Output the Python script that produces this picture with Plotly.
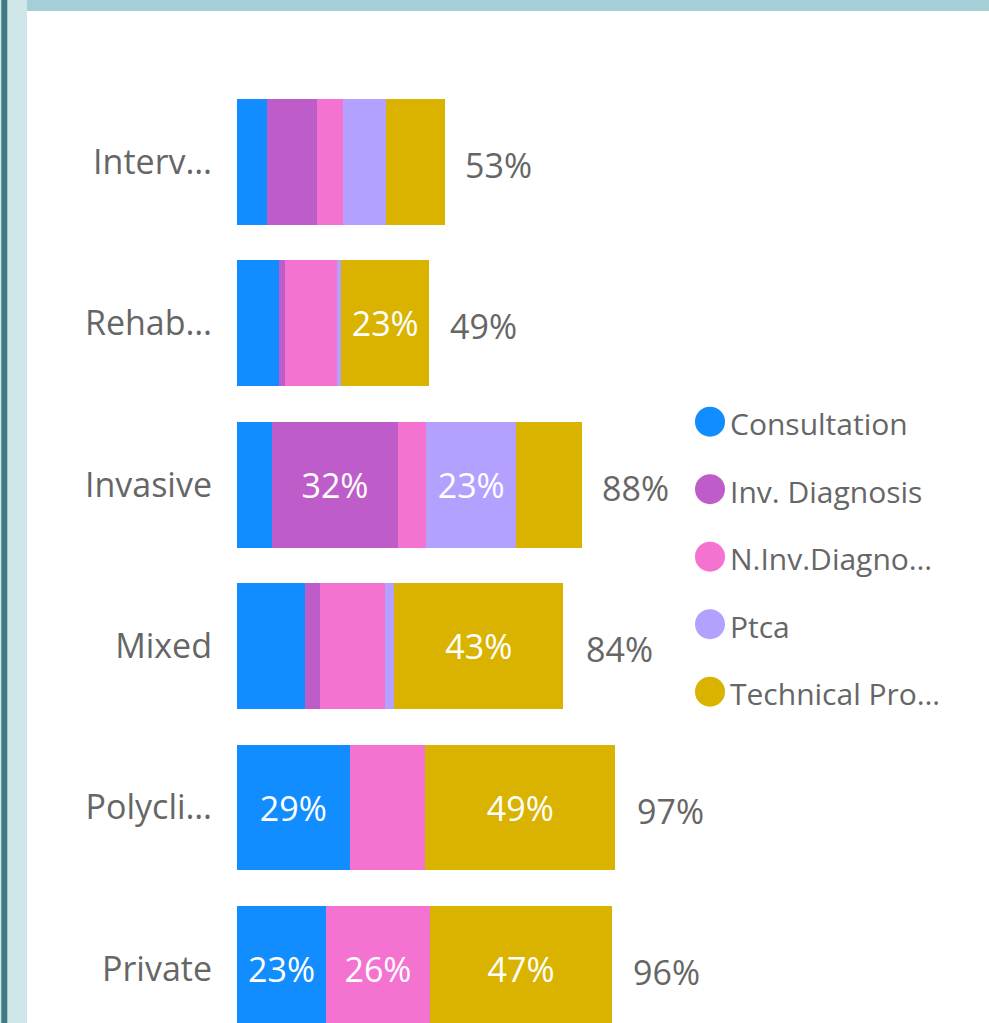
import plotly.graph_objects as go

W, H = 989, 1023

CATEGORIES = ["Interv…", "Rehab…", "Invasive", "Mixed", "Polycli…", "Private"]
SERIES = ["Consultation", "Inv. Diagnosis", "N.Inv.Diagnostics", "Ptca", "Technical Procedures"]
LEGEND_LABELS = ["Consultation", "Inv. Diagnosis", "N.Inv.Diagno…", "Ptca", "Technical Pro…"]

CONSULTATION = [7.6, 10.8, 8.9, 17.4, 28.8, 22.8]
INV_DIAGNOSIS = [12.8, 1.5, 32.3, 3.8, 0.0, 0.0]
N_INV_DIAGNOSTICS = [6.6, 13.3, 7.2, 16.7, 19.3, 26.5]
PTCA = [11.0, 1.0, 23.0, 2.3, 0.0, 0.0]
TECHNICAL = [15.1, 22.6, 16.9, 43.3, 48.7, 46.7]
TOTALS = [53, 49, 88, 84, 97, 96]

COLORS = ["#118DFF", "#BE5DC9", "#F473D1", "#B4A1FF", "#D9B300"]
LABEL_MIN = 20  # segments smaller than this carry no data label

FONT = "Segoe UI, Open Sans, sans-serif"
GREY = "#666666"

series_values = [CONSULTATION, INV_DIAGNOSIS, N_INV_DIAGNOSTICS, PTCA, TECHNICAL]

fig = go.Figure()
for name, vals, color in zip(SERIES, series_values, COLORS):
    fig.add_trace(
        go.Bar(
            y=CATEGORIES,
            x=vals,
            name=name,
            orientation="h",
            marker=dict(color=color, line=dict(width=0)),
            text=[f"{v:.0f}%" if v >= LABEL_MIN else "" for v in vals],
            textposition="inside",
            insidetextanchor="middle",
            textangle=0,
            constraintext="none",
            textfont=dict(family=FONT, size=34, color="#ffffff"),
            showlegend=False,
            hoverinfo="skip",
        )
    )

for cat, total in zip(CATEGORIES, TOTALS):
    fig.add_annotation(
        x=total,
        y=cat,
        text=f"{total}%",
        xanchor="left",
        xshift=19,
        yshift=-3,
        showarrow=False,
        font=dict(family=FONT, size=34, color=GREY),
    )

# legend: big dots as a scatter on its own axes, labels as annotations beside them
fig.add_trace(
    go.Scatter(
        x=[0] * len(LEGEND_LABELS),
        y=list(range(len(LEGEND_LABELS))),
        mode="markers",
        marker=dict(size=30, color=COLORS, line=dict(width=0)),
        xaxis="x2",
        yaxis="y2",
        showlegend=False,
        hoverinfo="skip",
        cliponaxis=False,
    )
)
for i, label in enumerate(LEGEND_LABELS):
    fig.add_annotation(
        x=0,
        y=i,
        xref="x2",
        yref="y2",
        text=label,
        xanchor="left",
        xshift=18,
        yshift=-2,
        showarrow=False,
        font=dict(family=FONT, size=30, color=GREY),
    )

plot_left, plot_w = 237, 391
plot_top = 81.3
fig.update_layout(
    width=W,
    height=H,
    barmode="stack",
    bargap=0.22,
    margin=dict(l=0, r=0, t=0, b=0),
    paper_bgcolor="#ffffff",
    plot_bgcolor="#ffffff",
    font=dict(family=FONT, color=GREY),
    xaxis=dict(
        domain=[plot_left / W, (plot_left + plot_w) / W],
        range=[0, 100],
        visible=False,
        fixedrange=True,
    ),
    yaxis=dict(
        domain=[0, (H - plot_top) / H],
        type="category",
        range=[5.335, -0.5],
        showgrid=False,
        zeroline=False,
        showline=False,
        ticks="",
        ticklabelstandoff=24,
        tickfont=dict(family=FONT, size=34, color=GREY),
        fixedrange=True,
    ),
    xaxis2=dict(domain=[695 / W, 1], range=[-15, 279], visible=False, anchor="y2"),
    yaxis2=dict(domain=[0, 1], range=[(H - 421.7) / 67.5, -421.7 / 67.5], visible=False, anchor="x2"),
    shapes=[
        dict(type="rect", xref="paper", yref="paper", x0=0, x1=27 / W, y0=0, y1=1,
             fillcolor="#D0E7EA", line=dict(width=0), layer="below"),
        dict(type="rect", xref="paper", yref="paper", x0=1.3 / W, x1=7.3 / W, y0=0, y1=1,
             fillcolor="#3F7B82", line=dict(width=0), layer="below"),
        dict(type="rect", xref="paper", yref="paper", x0=27 / W, x1=1, y0=1 - 11 / H, y1=1,
             fillcolor="#A5CFD6", line=dict(width=0), layer="below"),
    ],
)

fig.write_html(
    "out.html",
    config={"displayModeBar": False},
    post_script="document.body.style.margin='0';document.body.style.overflow='hidden';",
)
